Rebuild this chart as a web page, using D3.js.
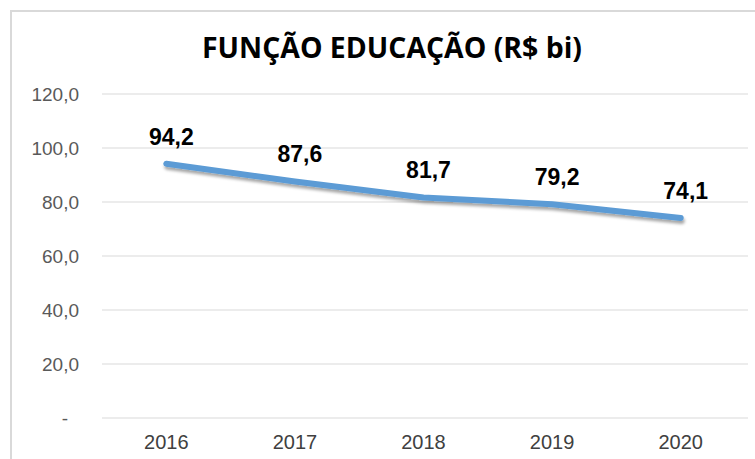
<!DOCTYPE html>
<html>
<head>
<meta charset="utf-8">
<script src="https://cdn.jsdelivr.net/npm/d3@7"></script>
<style>
  body { margin: 0; background: #fff; }
  svg { display: block; }
</style>
</head>
<body>
<svg id="chart"></svg>
<script>
// data
const years = ["2016", "2017", "2018", "2019", "2020"];
const values = [94.2, 87.6, 81.7, 79.2, 74.1];
const yTicks = [0, 20, 40, 60, 80, 100, 120];
const title = "FUNÇÃO EDUCAÇÃO (R$ bi)";

const width = 755, height = 459;
const marginLeft = 102, marginRight = 10;
const plotTop = 94, plotBottom = 418;

const svg = d3.select("#chart")
    .attr("width", width)
    .attr("height", height)
    .attr("viewBox", `0 0 ${width} ${height}`);

// drop shadow for the line
const defs = svg.append("defs");
defs.append("filter")
    .attr("id", "shadow")
    .attr("x", "-10%").attr("y", "-50%")
    .attr("width", "120%").attr("height", "200%")
  .append("feDropShadow")
    .attr("dx", 1).attr("dy", 3)
    .attr("stdDeviation", 1.8)
    .attr("flood-color", "#000")
    .attr("flood-opacity", 0.35);

// chart frame (runs off the right and bottom edges)
svg.append("rect")
    .attr("x", 11).attr("y", 11)
    .attr("width", 800).attr("height", 500)
    .attr("fill", "none")
    .attr("stroke", "#d9d9d9")
    .attr("stroke-width", 2);

const x = d3.scaleBand()
    .domain(years)
    .range([marginLeft, width - marginRight]);

const y = d3.scaleLinear()
    .domain([0, 120])
    .range([plotBottom, plotTop]);

// title
svg.append("text")
    .attr("x", 392)
    .attr("y", 58)
    .attr("text-anchor", "middle")
    .attr("textLength", 380)
    .attr("lengthAdjust", "spacingAndGlyphs")
    .style("font-family", "'Open Sans', sans-serif")
    .style("font-weight", "bold")
    .style("font-size", "28px")
    .style("fill", "#000")
    .text(title);

// gridlines
svg.append("g")
    .selectAll("line")
    .data(yTicks)
    .enter().append("line")
    .attr("x1", marginLeft)
    .attr("x2", width - marginRight + 3)
    .attr("y1", d => y(d))
    .attr("y2", d => y(d))
    .attr("stroke", "#d9d9d9")
    .attr("stroke-width", 1.2);

// y axis labels
const yAxis = svg.append("g")
    .attr("transform", `translate(79, 0)`)
    .call(d3.axisLeft(y).tickValues(yTicks).tickSize(0).tickPadding(0)
        .tickFormat(d => d === 0 ? "-" : d3.format(".1f")(d).replace(".", ",")));
yAxis.select(".domain").remove();
yAxis.selectAll("text")
    .attr("x", d => d === 0 ? -11 : 0)
    .attr("dy", "0.35em")
    .style("font-family", "'Liberation Sans', Arial, sans-serif")
    .style("font-size", "19px")
    .style("fill", "#595959");

// x axis labels
const xAxis = svg.append("g")
    .attr("transform", `translate(0, ${plotBottom})`)
    .call(d3.axisBottom(x).tickSize(0).tickPadding(0));
xAxis.select(".domain").remove();
xAxis.selectAll("text")
    .attr("y", 31)
    .attr("dy", 0)
    .style("font-family", "'Liberation Sans', Arial, sans-serif")
    .style("font-size", "20px")
    .style("fill", "#404040");

// line
const line = d3.line()
    .x((d, i) => x(years[i]) + x.bandwidth() / 2)
    .y(d => y(d));

svg.append("path")
    .datum(values)
    .attr("d", line)
    .attr("fill", "none")
    .attr("stroke", "#5b9bd5")
    .attr("stroke-width", 6)
    .attr("stroke-linecap", "round")
    .attr("stroke-linejoin", "round")
    .attr("filter", "url(#shadow)");

// data labels
svg.append("g")
    .selectAll("text")
    .data(values)
    .enter().append("text")
    .attr("x", (d, i) => x(years[i]) + x.bandwidth() / 2 + 5)
    .attr("y", d => y(d) - 19)
    .attr("text-anchor", "middle")
    .style("font-family", "'Liberation Sans', Arial, sans-serif")
    .style("font-weight", "bold")
    .style("font-size", "23px")
    .style("fill", "#000")
    .text(d => d3.format(".1f")(d).replace(".", ","));
</script>
</body>
</html>
